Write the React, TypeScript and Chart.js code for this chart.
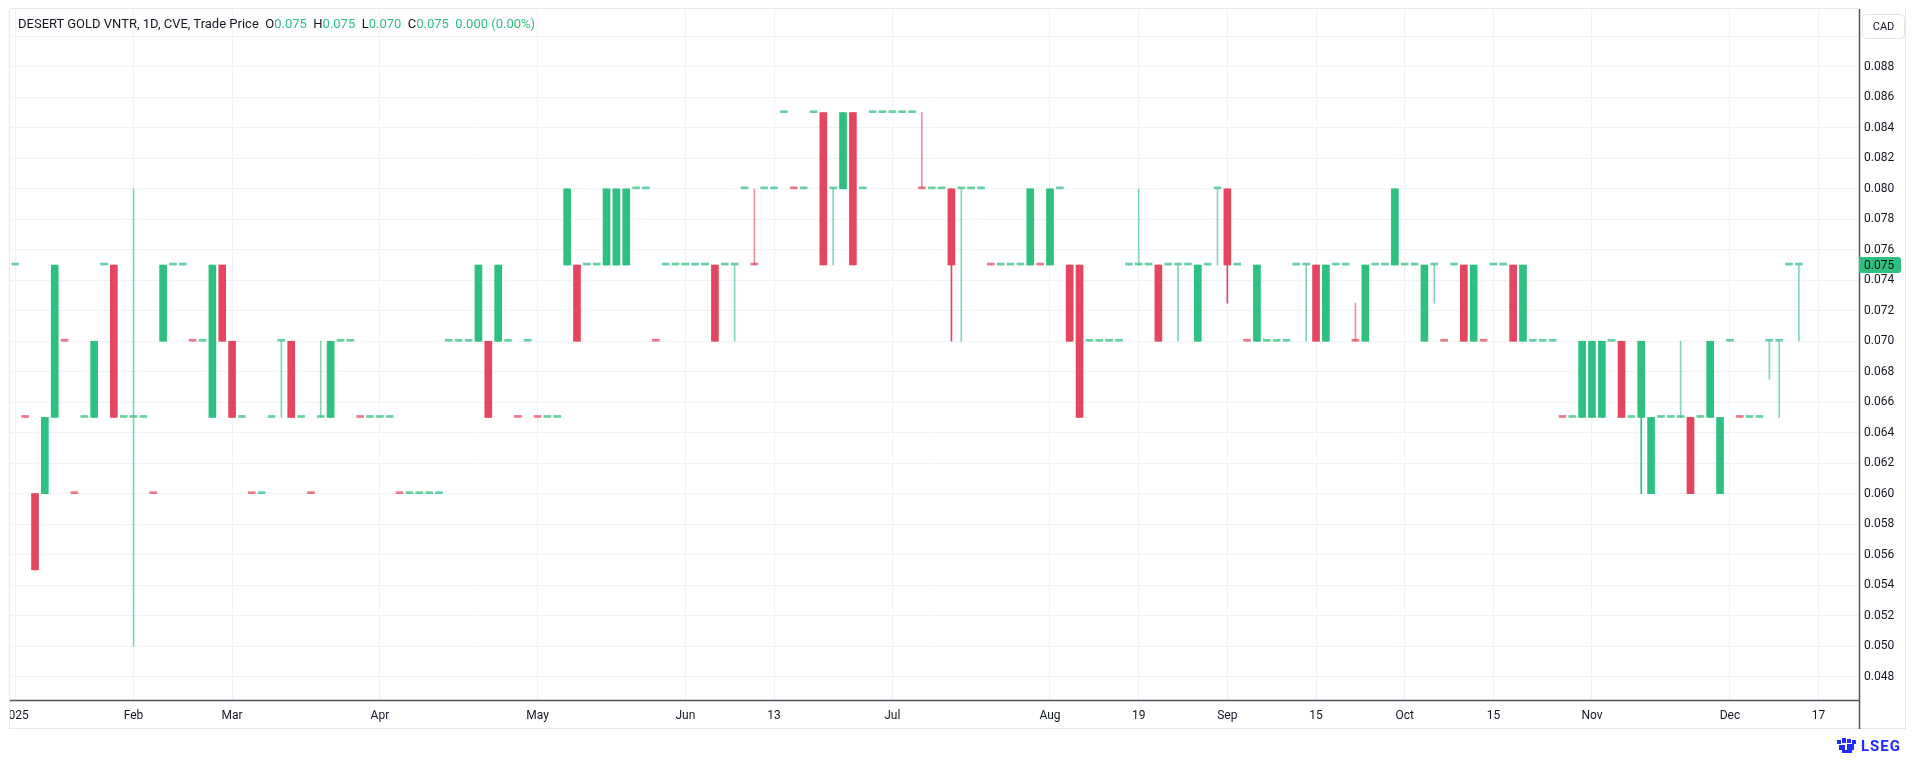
import React, { useEffect, useRef } from 'react';
import { Chart, registerables } from 'chart.js';

Chart.register(...registerables);

// ---- data (one slot per traded session) ----
const openPrices = [
  0.075, 0.065, 0.060, 0.060, 0.065, 0.070, 0.060, 0.065, 0.065, 0.075,
  0.075, 0.065, 0.065, 0.065, 0.060, 0.070, 0.075, 0.075, 0.070, 0.070,
  0.065, 0.075, 0.070, 0.065, 0.060, 0.060, 0.065, 0.070, 0.070, 0.065,
  0.060, 0.065, 0.065, 0.070, 0.070, 0.065, 0.065, 0.065, 0.065, 0.060,
  0.060, 0.060, 0.060, 0.060, 0.070, 0.070, 0.070, 0.070, 0.070, 0.075,
  0.070, 0.065, 0.070, 0.065, 0.065, 0.065, 0.075, 0.075, 0.075, 0.075,
  0.075, 0.075, 0.075, 0.080, 0.080, 0.070, 0.075, 0.075, 0.075, 0.075,
  0.075, 0.075, 0.075, 0.075, 0.080, 0.075, 0.080, 0.080, 0.085, 0.080,
  0.080, 0.085, 0.085, 0.080, 0.080, 0.085, 0.080, 0.085, 0.085, 0.085,
  0.085, 0.085, 0.080, 0.080, 0.080, 0.080, 0.080, 0.080, 0.080, 0.075,
  0.075, 0.075, 0.075, 0.075, 0.075, 0.075, 0.080, 0.075, 0.075, 0.070,
  0.070, 0.070, 0.070, 0.075, 0.075, 0.075, 0.075, 0.075, 0.075, 0.075,
  0.070, 0.075, 0.080, 0.080, 0.075, 0.070, 0.075, 0.070, 0.070, 0.070,
  0.075, 0.075, 0.075, 0.070, 0.075, 0.075, 0.070, 0.070, 0.075, 0.075,
  0.080, 0.075, 0.075, 0.070, 0.075, 0.070, 0.075, 0.075, 0.070, 0.070,
  0.075, 0.075, 0.075, 0.075, 0.070, 0.070, 0.070, 0.065, 0.065, 0.065,
  0.065, 0.065, 0.070, 0.070, 0.065, 0.070, 0.060, 0.065, 0.065, 0.065,
  0.065, 0.065, 0.070, 0.060, 0.070, 0.065, 0.065, 0.065, 0.070, 0.070,
  0.075, 0.075,
];

const highPrices = [
  0.075, 0.065, 0.060, 0.065, 0.075, 0.070, 0.060, 0.065, 0.070, 0.075,
  0.075, 0.065, 0.080, 0.065, 0.060, 0.075, 0.075, 0.075, 0.070, 0.070,
  0.075, 0.075, 0.070, 0.065, 0.060, 0.060, 0.065, 0.070, 0.070, 0.065,
  0.060, 0.070, 0.070, 0.070, 0.070, 0.065, 0.065, 0.065, 0.065, 0.060,
  0.060, 0.060, 0.060, 0.060, 0.070, 0.070, 0.070, 0.075, 0.070, 0.075,
  0.070, 0.065, 0.070, 0.065, 0.065, 0.065, 0.080, 0.075, 0.075, 0.075,
  0.080, 0.080, 0.080, 0.080, 0.080, 0.070, 0.075, 0.075, 0.075, 0.075,
  0.075, 0.075, 0.075, 0.075, 0.080, 0.080, 0.080, 0.080, 0.085, 0.080,
  0.080, 0.085, 0.085, 0.080, 0.085, 0.085, 0.080, 0.085, 0.085, 0.085,
  0.085, 0.085, 0.085, 0.080, 0.080, 0.080, 0.080, 0.080, 0.080, 0.075,
  0.075, 0.075, 0.075, 0.080, 0.075, 0.080, 0.080, 0.075, 0.075, 0.070,
  0.070, 0.070, 0.070, 0.075, 0.080, 0.075, 0.075, 0.075, 0.075, 0.075,
  0.075, 0.075, 0.080, 0.080, 0.075, 0.070, 0.075, 0.070, 0.070, 0.070,
  0.075, 0.075, 0.075, 0.075, 0.075, 0.075, 0.0725, 0.075, 0.075, 0.075,
  0.080, 0.075, 0.075, 0.075, 0.075, 0.070, 0.075, 0.075, 0.075, 0.070,
  0.075, 0.075, 0.075, 0.075, 0.070, 0.070, 0.070, 0.065, 0.065, 0.070,
  0.070, 0.070, 0.070, 0.070, 0.065, 0.070, 0.065, 0.065, 0.065, 0.070,
  0.065, 0.065, 0.070, 0.065, 0.070, 0.065, 0.065, 0.065, 0.070, 0.070,
  0.075, 0.075,
];

const lowPrices = [
  0.075, 0.065, 0.055, 0.060, 0.065, 0.070, 0.060, 0.065, 0.065, 0.075,
  0.065, 0.065, 0.050, 0.065, 0.060, 0.070, 0.075, 0.075, 0.070, 0.070,
  0.065, 0.070, 0.065, 0.065, 0.060, 0.060, 0.065, 0.065, 0.065, 0.065,
  0.060, 0.065, 0.065, 0.070, 0.070, 0.065, 0.065, 0.065, 0.065, 0.060,
  0.060, 0.060, 0.060, 0.060, 0.070, 0.070, 0.070, 0.070, 0.065, 0.070,
  0.070, 0.065, 0.070, 0.065, 0.065, 0.065, 0.075, 0.070, 0.075, 0.075,
  0.075, 0.075, 0.075, 0.080, 0.080, 0.070, 0.075, 0.075, 0.075, 0.075,
  0.075, 0.070, 0.075, 0.070, 0.080, 0.075, 0.080, 0.080, 0.085, 0.080,
  0.080, 0.085, 0.075, 0.075, 0.080, 0.075, 0.080, 0.085, 0.085, 0.085,
  0.085, 0.085, 0.080, 0.080, 0.080, 0.070, 0.070, 0.080, 0.080, 0.075,
  0.075, 0.075, 0.075, 0.075, 0.075, 0.075, 0.080, 0.070, 0.065, 0.070,
  0.070, 0.070, 0.070, 0.075, 0.075, 0.075, 0.070, 0.075, 0.070, 0.075,
  0.070, 0.075, 0.075, 0.0725, 0.075, 0.070, 0.070, 0.070, 0.070, 0.070,
  0.075, 0.070, 0.070, 0.070, 0.075, 0.075, 0.070, 0.070, 0.075, 0.075,
  0.075, 0.075, 0.075, 0.070, 0.0725, 0.070, 0.075, 0.070, 0.070, 0.070,
  0.075, 0.075, 0.070, 0.070, 0.070, 0.070, 0.070, 0.065, 0.065, 0.065,
  0.065, 0.065, 0.070, 0.065, 0.065, 0.060, 0.060, 0.065, 0.065, 0.065,
  0.060, 0.065, 0.065, 0.060, 0.070, 0.065, 0.065, 0.065, 0.0675, 0.065,
  0.075, 0.070,
];

const closePrices = [
  0.075, 0.065, 0.055, 0.065, 0.075, 0.070, 0.060, 0.065, 0.070, 0.075,
  0.065, 0.065, 0.065, 0.065, 0.060, 0.075, 0.075, 0.075, 0.070, 0.070,
  0.075, 0.070, 0.065, 0.065, 0.060, 0.060, 0.065, 0.070, 0.065, 0.065,
  0.060, 0.065, 0.070, 0.070, 0.070, 0.065, 0.065, 0.065, 0.065, 0.060,
  0.060, 0.060, 0.060, 0.060, 0.070, 0.070, 0.070, 0.075, 0.065, 0.070,
  0.070, 0.065, 0.070, 0.065, 0.065, 0.065, 0.080, 0.070, 0.075, 0.075,
  0.080, 0.080, 0.080, 0.080, 0.080, 0.070, 0.075, 0.075, 0.075, 0.075,
  0.075, 0.070, 0.075, 0.075, 0.080, 0.075, 0.080, 0.080, 0.085, 0.080,
  0.080, 0.085, 0.075, 0.080, 0.085, 0.075, 0.080, 0.085, 0.085, 0.085,
  0.085, 0.085, 0.080, 0.080, 0.080, 0.075, 0.080, 0.080, 0.080, 0.075,
  0.075, 0.075, 0.075, 0.080, 0.075, 0.080, 0.080, 0.070, 0.065, 0.070,
  0.070, 0.070, 0.070, 0.075, 0.075, 0.075, 0.070, 0.075, 0.075, 0.075,
  0.075, 0.075, 0.080, 0.075, 0.075, 0.070, 0.070, 0.070, 0.070, 0.070,
  0.075, 0.075, 0.070, 0.075, 0.075, 0.075, 0.070, 0.075, 0.075, 0.075,
  0.075, 0.075, 0.075, 0.075, 0.075, 0.070, 0.075, 0.070, 0.075, 0.070,
  0.075, 0.075, 0.070, 0.070, 0.070, 0.070, 0.070, 0.065, 0.065, 0.070,
  0.070, 0.070, 0.070, 0.065, 0.065, 0.065, 0.065, 0.065, 0.065, 0.065,
  0.060, 0.065, 0.065, 0.065, 0.070, 0.065, 0.065, 0.065, 0.070, 0.070,
  0.075, 0.075,
];

// x-axis labels: slot index where each label sits
const timeTickSlots = [0, 12, 22, 37, 53, 68, 77, 89, 105, 114, 123, 132, 141, 150, 160, 174, 183];
const timeTickLabels = ['2025', 'Feb', 'Mar', 'Apr', 'May', 'Jun', '13', 'Jul', 'Aug', '19', 'Sep', '15', 'Oct', '15', 'Nov', 'Dec', '17'];

const priceTicks = [
  0.048, 0.050, 0.052, 0.054, 0.056, 0.058, 0.060, 0.062, 0.064, 0.066, 0.068,
  0.070, 0.072, 0.074, 0.076, 0.078, 0.080, 0.082, 0.084, 0.086, 0.088, 0.090,
];

const TITLE = 'DESERT GOLD VNTR, 1D, CVE, Trade Price';
const CURRENCY = 'CAD';

const UP = 'rgb(46,192,128)';
const DOWN = 'rgb(229,70,95)';
const UP_SOFT = 'rgba(46,192,128,0.72)';
const DOWN_SOFT = 'rgba(229,70,95,0.72)';
const TEXT = '#131722';
const GRID = '#f0f2f5';
const FONT = 'Roboto';

const slots = openPrices.map((_, i) => i);
const isUp = closePrices.map((c, i) => (i === 0 ? true : c >= closePrices[i - 1]));
const isFlat = openPrices.map((o, i) => o === closePrices[i]);

const bodyColors = slots.map((i) =>
  isFlat[i] ? (isUp[i] ? UP_SOFT : DOWN_SOFT) : isUp[i] ? UP : DOWN
);
const wickColors = slots.map((i) =>
  isFlat[i] ? (isUp[i] ? 'rgba(46,192,128,0.6)' : 'rgba(229,70,95,0.6)') : isUp[i] ? UP : DOWN
);

const last = slots.length - 1;
const lastOpen = openPrices[last];
const lastHigh = highPrices[last];
const lastLow = lowPrices[last];
const lastClose = closePrices[last];
const change = lastClose - closePrices[last - 1];
const changePct = (change / closePrices[last - 1]) * 100;

const decorPlugin = {
  id: 'decor',
  afterDraw(chart: any) {
    const { ctx, chartArea } = chart;
    const yScale = chart.scales.y;
    const L = chartArea.left;
    const R = chartArea.right;
    const T = chartArea.top;
    const B = chartArea.bottom;
    ctx.save();
    // clip area left of pane
    ctx.fillStyle = '#ffffff';
    ctx.fillRect(0, B + 1, L, 40);
    // light frame
    ctx.strokeStyle = '#e6e8ec';
    ctx.lineWidth = 1;
    ctx.beginPath();
    ctx.moveTo(L - 0.5, T);
    ctx.lineTo(L - 0.5, B + 29);
    ctx.moveTo(L, T - 0.5);
    ctx.lineTo(R, T - 0.5);
    ctx.moveTo(L, B + 28.5);
    ctx.lineTo(1905, B + 28.5);
    ctx.moveTo(1905.5, T);
    ctx.lineTo(1905.5, B + 29);
    ctx.stroke();
    // axis lines
    ctx.strokeStyle = '#50535e';
    ctx.lineWidth = 1.5;
    ctx.beginPath();
    ctx.moveTo(L, B + 0.5);
    ctx.lineTo(R, B + 0.5);
    ctx.moveTo(R + 0.5, T);
    ctx.lineTo(R + 0.5, B + 29);
    ctx.stroke();
    // currency box
    const bx = 1862, by = 14, bw = 42, bh = 24;
    ctx.fillStyle = '#ffffff';
    ctx.strokeStyle = '#e0e3eb';
    ctx.lineWidth = 1;
    ctx.beginPath();
    ctx.roundRect(bx + 0.5, by + 0.5, bw, bh, 4);
    ctx.fill();
    ctx.stroke();
    ctx.fillStyle = TEXT;
    ctx.font = `11px ${FONT}`;
    ctx.textAlign = 'center';
    ctx.textBaseline = 'middle';
    ctx.fillText(CURRENCY, bx + bw / 2 + 0.5, by + bh / 2 + 1);
    // last price label
    const py = yScale.getPixelForValue(lastClose);
    ctx.fillStyle = UP;
    ctx.beginPath();
    ctx.roundRect(R, py - 8, 42, 16, [0, 3, 3, 0]);
    ctx.fill();
    ctx.fillStyle = '#0b0e14';
    ctx.font = `12px ${FONT}`;
    ctx.textAlign = 'left';
    ctx.textBaseline = 'middle';
    ctx.fillText(lastClose.toFixed(3), R + 5, py + 0.5);
    ctx.restore();
  },
};

export default function App() {
  const canvasRef = useRef<HTMLCanvasElement | null>(null);

  useEffect(() => {
    if (!canvasRef.current) return;
    Chart.defaults.font.family = FONT;
    const chart = new Chart(canvasRef.current, {
      type: 'bar',
      data: {
        datasets: [
          {
            label: 'wick',
            data: slots.map((i) => ({ x: i, y: [lowPrices[i], highPrices[i]] })) as any,
            backgroundColor: wickColors,
            barThickness: 1,
            minBarLength: 0,
            grouped: false,
            order: 2,
          } as any,
          {
            label: 'body',
            data: slots.map((i) => ({ x: i, y: [openPrices[i], closePrices[i]] })) as any,
            backgroundColor: bodyColors,
            barThickness: 7,
            minBarLength: 2,
            grouped: false,
            order: 1,
          } as any,
        ],
      },
      options: {
        animation: false,
        responsive: false,
        devicePixelRatio: 1,
        layout: { padding: { left: 10, top: 9, right: 0, bottom: 0 } },
        plugins: { legend: { display: false }, tooltip: { enabled: false } },
        scales: {
          x: {
            type: 'linear',
            min: -0.537,
            max: 187.1,
            bounds: 'data',
            offset: false,
            grid: { color: GRID, drawTicks: false, offset: false },
            border: { display: false },
            ticks: {
              autoSkip: false,
              maxRotation: 0,
              padding: 9,
              color: TEXT,
              font: { size: 12, family: FONT },
              callback: (v: any) => {
                const k = timeTickSlots.indexOf(Number(v));
                return k >= 0 ? timeTickLabels[k] : '';
              },
            },
            afterBuildTicks: (scale: any) => {
              scale.ticks = timeTickSlots.map((v) => ({ value: v }));
            },
            afterFit: (scale: any) => {
              scale.height = 60;
              scale.paddingLeft = 0;
              scale.paddingRight = 0;
            },
          },
          y: {
            type: 'linear',
            position: 'right',
            min: 0.04646,
            max: 0.0918,
            bounds: 'data',
            beginAtZero: false,
            grid: { color: GRID, drawTicks: false },
            border: { display: false },
            ticks: {
              padding: 5,
              color: TEXT,
              font: { size: 12, family: FONT },
              callback: (v: any) => (Number(v) >= 0.0895 ? '' : Number(v).toFixed(3)),
            },
            afterBuildTicks: (scale: any) => {
              scale.ticks = priceTicks.map((v) => ({ value: v }));
            },
            afterFit: (scale: any) => {
              scale.width = 61;
              scale.paddingTop = 0;
              scale.paddingBottom = 0;
            },
          },
        },
      } as any,
      plugins: [decorPlugin],
    });
    return () => chart.destroy();
  }, []);

  const green = { color: UP };
  return (
    <div style={{ position: 'absolute', left: 0, top: 0, width: 1920, height: 760, background: '#ffffff', overflow: 'hidden' }}>
      <canvas ref={canvasRef} width={1920} height={760} style={{ position: 'absolute', left: 0, top: 0, width: 1920, height: 760 }} />
      <div style={{ position: 'absolute', left: 18, top: 16, font: `13px ${FONT}`, color: TEXT, whiteSpace: 'pre', lineHeight: '16px' }}>
        {TITLE + '  O'}
        <span style={green}>{lastOpen.toFixed(3)}</span>
        {'  H'}
        <span style={green}>{lastHigh.toFixed(3)}</span>
        {'  L'}
        <span style={green}>{lastLow.toFixed(3)}</span>
        {'  C'}
        <span style={green}>{lastClose.toFixed(3)}</span>
        <span style={green}>{'  ' + change.toFixed(3) + ' (' + changePct.toFixed(2) + '%)'}</span>
      </div>
      <div style={{ position: 'absolute', left: 1836, top: 737, display: 'flex', alignItems: 'center', gap: 3 }}>
        <svg width="22" height="16" viewBox="0 0 22 16">
          <g fill="#1f2bff">
            <rect x="1" y="2" width="4" height="4" />
            <rect x="6" y="0" width="4" height="5" />
            <rect x="11" y="1" width="4" height="4" />
            <rect x="16" y="2" width="4" height="4" />
            <rect x="3" y="7" width="6" height="5" />
            <rect x="11" y="6" width="7" height="6" />
            <rect x="6" y="12" width="10" height="3" />
          </g>
        </svg>
        <span style={{ font: `bold 15px ${FONT}`, color: '#1f2bff', letterSpacing: 1 }}>LSEG</span>
      </div>
    </div>
  );
}
